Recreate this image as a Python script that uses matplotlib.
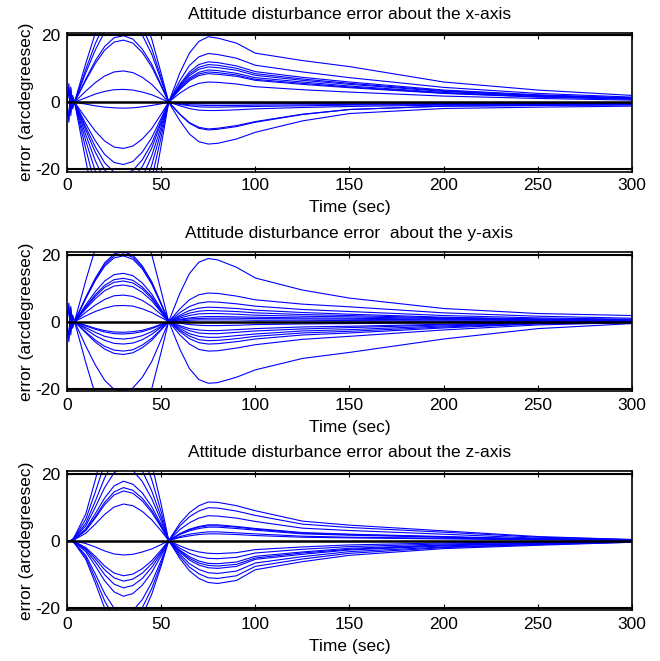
import matplotlib
matplotlib.use('Agg')
from matplotlib import pyplot as plt

# time samples (sec) shared by every run
t = [0, 1, 2, 3, 4, 10, 15, 20, 25, 30, 35, 40, 45, 50, 54,
     60, 65, 70, 75, 80, 90, 100, 125, 150, 200, 250, 300]

# error about the x-axis (arcdegreesec), one list per run
err_x = [
    [0, 5.5, -4, 2, 0, 11.6, 20.5, 27.7, 32.0, 33.0, 31.4, 26.4, 18.8, 8.6, 0,
     -5.6, -9.5, -11.8, -12.5, -12.3, -11.0, -9.0, -5.6, -3.4, -1.9, -1.5, -1.2],
    [0, -5, 4, -1.5, 0, 9.8, 17.4, 23.5, 27.2, 28.0, 26.6, 22.4, 16.0, 7.3, 0,
     -3.7, -6.3, -7.8, -8.3, -8.1, -7.3, -6.0, -3.7, -2.2, -1.2, -1.0, -0.8],
    [0, 0, 0, 0, 0, 8.8, 15.5, 21.0, 24.3, 25.0, 23.8, 20.0, 14.3, 6.5, 0,
     -3.6, -6.1, -7.5, -8.0, -7.8, -7.0, -5.8, -3.6, -2.2, -1.2, -1.0, -0.8],
    [0, 0, 0, 0, 0, 6.9, 12.3, 16.6, 19.2, 19.8, 18.8, 15.8, 11.3, 5.1, 0,
     -1.1, -1.9, -2.4, -2.5, -2.5, -2.3, -2.0, -1.6, -1.3, -0.9, -0.7, -0.6],
    [0, 3, -2, 1, 0, 6.5, 11.5, 15.5, 17.9, 18.5, 17.6, 14.8, 10.5, 4.8, 0,
     -0.7, -1.1, -1.4, -1.5, -1.5, -1.4, -1.3, -1.1, -0.9, -0.7, -0.6, -0.5],
    [0, 0, 0, 0, 0, 3.3, 5.8, 7.8, 9.0, 9.3, 8.8, 7.4, 5.3, 2.4, 0,
     -0.5, -0.8, -0.9, -1.0, -1.0, -1.0, -0.9, -0.8, -0.7, -0.5, -0.4, -0.3],
    [0, 0, 0, 0, 0, 1.3, 2.4, 3.2, 3.7, 3.8, 3.6, 3.0, 2.2, 1.0, 0,
     -0.2, -0.4, -0.5, -0.5, -0.5, -0.5, -0.5, -0.4, -0.3, -0.3, -0.2, -0.2],
    [0, 0, 0, 0, 0, -0.6, -1.1, -1.5, -1.7, -1.8, -1.7, -1.4, -1.0, -0.5, 0,
     2.7, 4.5, 5.6, 6.0, 5.9, 5.4, 4.6, 3.7, 3.0, 1.8, 1.1, 0.6],
    [0, 0, 0, 0, 0, -4.8, -8.6, -11.6, -13.4, -13.8, -13.1, -11.0, -7.9, -3.6, 0,
     3.8, 6.4, 7.9, 8.5, 8.3, 7.7, 6.5, 5.3, 4.3, 2.6, 1.5, 0.9],
    [0, -6, 4.5, -2, 0, -6.5, -11.5, -15.6, -18.0, -18.6, -17.7, -14.9, -10.6, -4.8, 0,
     4.1, 6.8, 8.4, 9.0, 8.8, 8.1, 6.8, 5.6, 4.5, 2.7, 1.6, 0.9],
    [0, 0, 0, 0, 0, -7.5, -13.3, -18.1, -20.9, -21.5, -20.4, -17.2, -12.3, -5.6, 0,
     4.3, 7.2, 8.9, 9.6, 9.4, 8.6, 7.3, 6.0, 4.8, 2.9, 1.7, 1.0],
    [0, 0, 0, 0, 0, -8.4, -14.9, -20.2, -23.3, -24.0, -22.8, -19.2, -13.7, -6.2, 0,
     4.7, 7.9, 9.8, 10.5, 10.3, 9.5, 8.0, 6.5, 5.3, 3.2, 1.9, 1.1],
    [0, 4, -3, 1.5, 0, -9.8, -17.4, -23.5, -27.2, -28.0, -26.6, -22.4, -16.0, -7.3, 0,
     5.0, 8.4, 10.4, 11.2, 11.0, 10.1, 8.5, 6.9, 5.6, 3.4, 2.0, 1.2],
    [0, 0, 0, 0, 0, -11.6, -20.5, -27.7, -32.0, -33.0, -31.4, -26.4, -18.8, -8.6, 0,
     5.4, 9.0, 11.2, 12.0, 11.8, 10.8, 9.1, 7.4, 6.0, 3.6, 2.2, 1.3],
    [0, 0, 0, 0, 0, -14.0, -24.8, -33.6, -38.8, -40.0, -38.0, -32.0, -22.8, -10.4, 0,
     6.5, 10.9, 13.5, 14.5, 14.2, 13.1, 11.0, 9.0, 7.3, 4.4, 2.6, 1.5],
    [0, 0, 0, 0, 0, -17.5, -31.0, -42.0, -48.5, -50.0, -47.5, -40.0, -28.5, -13.0, 0,
     8.8, 14.6, 18.1, 19.5, 19.1, 17.6, 14.6, 12.4, 10.6, 6.0, 3.6, 2.0],
]

# error about the y-axis
err_y = [
    [0, 5.5, -4, 2, 0, 12.3, 21.7, 29.4, 34.0, 35.0, 33.3, 28.0, 20.0, 9.1, 0,
     -8.3, -14.0, -17.3, -18.4, -18.2, -16.6, -14.4, -11.0, -9.2, -5.2, -2.1, -0.6],
    [0, 0, 0, 0, 0, 7.3, 12.9, 17.5, 20.2, 20.8, 19.8, 16.6, 11.9, 5.4, 0,
     -4.0, -6.7, -8.3, -8.8, -8.7, -7.9, -6.9, -5.3, -4.4, -2.5, -1.0, -0.3],
    [0, -5, 4, -1.5, 0, 7.1, 12.5, 17.0, 19.6, 20.2, 19.2, 16.2, 11.5, 5.3, 0,
     -3.0, -5.1, -6.3, -6.7, -6.6, -6.0, -5.2, -4.0, -3.4, -1.9, -0.7, -0.2],
    [0, 0, 0, 0, 0, 6.9, 12.2, 16.5, 19.0, 19.6, 18.6, 15.7, 11.2, 5.1, 0,
     -2.6, -4.3, -5.4, -5.7, -5.6, -5.1, -4.4, -3.4, -2.9, -1.6, -0.6, -0.2],
    [0, 0, 0, 0, 0, 5.0, 8.9, 12.1, 14.0, 14.4, 13.7, 11.5, 8.2, 3.7, 0,
     -2.1, -3.6, -4.4, -4.7, -4.7, -4.2, -3.7, -2.8, -2.4, -1.3, -0.5, -0.1],
    [0, 0, 0, 0, 0, 4.5, 8.0, 10.8, 12.5, 12.9, 12.3, 10.3, 7.4, 3.4, 0,
     -1.6, -2.7, -3.4, -3.6, -3.6, -3.2, -2.8, -2.2, -1.8, -1.0, -0.4, -0.1],
    [0, 0, 0, 0, 0, 4.2, 7.5, 10.2, 11.7, 12.1, 11.5, 9.7, 6.9, 3.1, 0,
     -1.2, -2.1, -2.5, -2.7, -2.7, -2.4, -2.1, -1.6, -1.4, -0.8, -0.3, -0.1],
    [0, 0, 0, 0, 0, 3.8, 6.8, 9.2, 10.6, 10.9, 10.4, 8.7, 6.2, 2.8, 0,
     -0.5, -0.9, -1.1, -1.2, -1.2, -1.1, -0.9, -0.7, -0.6, -0.3, -0.1, 0.0],
    [0, 0, 0, 0, 0, 2.8, 4.9, 6.6, 7.7, 7.9, 7.5, 6.3, 4.5, 2.1, 0,
     -0.1, -0.2, -0.3, -0.3, -0.3, -0.3, -0.2, -0.2, -0.2, -0.1, 0.0, 0.0],
    [0, 0, 0, 0, 0, 1.7, 3.0, 4.0, 4.7, 4.8, 4.6, 3.8, 2.7, 1.2, 0,
     0.2, 0.4, 0.5, 0.5, 0.5, 0.5, 0.4, 0.4, 0.3, 0.2, 0.1, 0.1],
    [0, -6, 4.5, -2, 0, -12.3, -21.7, -29.4, -34.0, -35.0, -33.3, -28.0, -20.0, -9.1, 0,
     8.5, 14.3, 17.7, 18.8, 18.4, 16.2, 13.0, 9.4, 7.0, 3.9, 2.4, 1.8],
    [0, 0, 0, 0, 0, -7.3, -12.9, -17.5, -20.2, -20.8, -19.8, -16.6, -11.9, -5.4, 0,
     3.8, 6.5, 8.0, 8.5, 8.4, 7.6, 6.5, 5.2, 4.4, 2.6, 1.6, 1.0],
    [0, 0, 0, 0, 0, -3.4, -6.1, -8.2, -9.5, -9.8, -9.3, -7.8, -5.6, -2.5, 0,
     2.7, 4.5, 5.5, 5.9, 5.8, 5.3, 4.6, 3.6, 3.0, 1.8, 1.1, 0.7],
    [0, 0, 0, 0, 0, -3.1, -5.5, -7.4, -8.5, -8.8, -8.4, -7.0, -5.0, -2.3, 0,
     1.9, 3.3, 4.0, 4.3, 4.2, 3.9, 3.4, 2.7, 2.2, 1.3, 0.8, 0.5],
    [0, 4, -3, 1.5, 0, -2.3, -4.2, -5.6, -6.5, -6.7, -6.4, -5.4, -3.8, -1.7, 0,
     1.5, 2.5, 3.1, 3.3, 3.2, 3.0, 2.6, 2.1, 1.8, 1.1, 0.7, 0.4],
    [0, 0, 0, 0, 0, -1.8, -3.2, -4.4, -5.0, -5.2, -4.9, -4.2, -3.0, -1.4, 0,
     1.1, 1.8, 2.3, 2.4, 2.4, 2.2, 1.9, 1.6, 1.4, 0.9, 0.6, 0.4],
    [0, 0, 0, 0, 0, -1.3, -2.3, -3.1, -3.6, -3.7, -3.5, -3.0, -2.1, -1.0, 0,
     0.7, 1.1, 1.4, 1.5, 1.5, 1.4, 1.3, 1.1, 1.0, 0.7, 0.5, 0.3],
    [0, 0, 0, 0, 0, -1.1, -2.0, -2.7, -3.1, -3.2, -3.0, -2.6, -1.8, -0.8, 0,
     0.5, 0.8, 0.9, 1.0, 1.0, 1.0, 0.9, 0.8, 0.7, 0.5, 0.3, 0.2],
]

# error about the z-axis
err_z = [
    [0, 0, 0, 0.4, 1.2, 8.0, 18.0, 28.8, 36.8, 40.0, 38.0, 32.0, 22.8, 10.8, 0,
     -5.4, -9.0, -11.3, -12.5, -12.8, -11.9, -8.7, -6.3, -4.4, -2.4, -1.4, -0.5],
    [0, 0, 0, 0.3, 1.0, 6.4, 14.4, 23.0, 29.4, 32.0, 30.4, 25.6, 18.2, 8.6, 0,
     -4.7, -7.9, -9.9, -11.1, -11.3, -10.5, -7.7, -5.5, -3.8, -2.1, -1.2, -0.5],
    [0, 0, 0, 0.3, 0.8, 5.2, 11.7, 18.7, 23.9, 26.0, 24.7, 20.8, 14.8, 7.0, 0,
     -4.1, -6.9, -8.6, -9.6, -9.8, -9.1, -6.7, -4.8, -3.3, -1.9, -1.1, -0.4],
    [0, 0, 0, 0.2, 0.7, 4.4, 9.9, 15.8, 20.2, 22.0, 20.9, 17.6, 12.5, 5.9, 0,
     -3.5, -5.8, -7.3, -8.1, -8.3, -7.7, -5.6, -4.1, -2.8, -1.6, -0.9, -0.3],
    [0, 0, 0, 0.2, 0.5, 3.5, 8.0, 12.7, 16.3, 17.7, 16.8, 14.2, 10.1, 4.8, 0,
     -3.2, -5.3, -6.7, -7.4, -7.6, -7.1, -5.2, -3.7, -2.6, -1.4, -0.8, -0.3],
    [0, 0, 0, 0.2, 0.5, 3.2, 7.1, 11.4, 14.5, 15.8, 15.0, 12.6, 9.0, 4.3, 0,
     -2.9, -4.8, -6.1, -6.8, -6.9, -6.4, -4.7, -3.4, -2.3, -1.3, -0.8, -0.3],
    [0, 0, 0, 0.1, 0.4, 3.0, 6.7, 10.7, 13.6, 14.8, 14.1, 11.8, 8.4, 4.0, 0,
     -2.3, -3.8, -4.8, -5.3, -5.4, -5.0, -3.7, -2.6, -1.8, -1.0, -0.6, -0.2],
    [0, 0, 0, 0.1, 0.3, 2.2, 4.9, 7.8, 10.0, 10.9, 10.4, 8.7, 6.2, 2.9, 0,
     -1.6, -2.7, -3.4, -3.8, -3.9, -3.6, -2.7, -1.9, -1.3, -0.7, -0.4, -0.2],
    [0, 0, 0, -0.3, -0.8, -5.6, -12.6, -20.2, -25.8, -28.0, -26.6, -22.4, -16.0, -7.6, 0,
     5.2, 8.3, 10.4, 11.5, 11.4, 10.4, 8.9, 5.8, 4.6, 2.9, 1.2, 0.3],
    [0, 0, 0, -0.3, -0.8, -5.0, -11.3, -18.0, -23.0, -25.0, -23.8, -20.0, -14.3, -6.8, 0,
     4.4, 7.1, 8.8, 9.8, 9.7, 8.8, 7.5, 4.9, 3.9, 2.5, 1.0, 0.3],
    [0, 0, 0, -0.2, -0.7, -4.4, -9.9, -15.8, -20.2, -22.0, -20.9, -17.6, -12.5, -5.9, 0,
     3.3, 5.3, 6.7, 7.4, 7.3, 6.7, 5.7, 3.7, 3.0, 1.9, 0.7, 0.2],
    [0, 0, 0, -0.2, -0.5, -3.3, -7.5, -12.0, -15.3, -16.6, -15.8, -13.3, -9.5, -4.5, 0,
     2.1, 3.4, 4.2, 4.7, 4.7, 4.2, 3.6, 2.4, 1.9, 1.2, 0.5, 0.1],
    [0, 0, 0, -0.1, -0.4, -2.8, -6.3, -10.2, -13.0, -14.1, -13.4, -11.3, -8.0, -3.8, 0,
     2.0, 3.2, 4.0, 4.4, 4.4, 4.0, 3.4, 2.2, 1.8, 1.1, 0.4, 0.1],
    [0, 0, 0, -0.1, -0.4, -2.4, -5.4, -8.7, -11.1, -12.1, -11.5, -9.7, -6.9, -3.3, 0,
     1.8, 2.9, 3.6, 4.0, 4.0, 3.6, 3.1, 2.0, 1.6, 1.0, 0.4, 0.1],
    [0, 0, 0, -0.1, -0.3, -2.1, -4.7, -7.6, -9.7, -10.5, -10.0, -8.4, -6.0, -2.8, 0,
     1.2, 1.9, 2.3, 2.6, 2.6, 2.3, 2.0, 1.3, 1.0, 0.7, 0.3, 0.1],
    [0, 0, 0, 0, -0.1, -0.9, -1.9, -3.1, -4.0, -4.3, -4.1, -3.4, -2.5, -1.2, 0,
     0.9, 1.4, 1.8, 2.0, 2.0, 1.8, 1.5, 1.0, 0.8, 0.5, 0.2, 0.1],
]

titles = ['Attitude disturbance error about the x-axis',
          'Attitude disturbance error  about the y-axis',
          'Attitude disturbance error about the z-axis']
xticks = [0, 50, 100, 150, 200, 250, 300]
yticks = [-20, 0, 20]
bound = 20

plt.rcParams['font.family'] = ['Liberation Sans', 'DejaVu Sans']
plt.rcParams['axes.unicode_minus'] = False

fig = plt.figure(figsize=(6.6, 6.61), dpi=100)
bottoms = [0.7405, 0.4085, 0.0772]

for b, runs, title in zip(bottoms, [err_x, err_y, err_z], titles):
    ax = fig.add_axes([0.1015, b, 0.856, 0.21])
    for run in runs:
        ax.plot(t, run, color='#0000ff', lw=0.8)
    ax.axhline(0, color='k', lw=1.8)
    ax.axhline(bound, color='k', lw=1.5)
    ax.axhline(-bound, color='k', lw=1.5)
    ax.set_xlim(0, 300)
    ax.set_ylim(-20.7, 20.7)
    ax.set_xticks(xticks)
    ax.set_yticks(yticks)
    ax.tick_params(direction='in', top=True, right=True, length=4,
                   width=0.8, labelsize=12.5, pad=5)
    for s in ax.spines.values():
        s.set_linewidth(1.2)
    ax.set_title(title, fontsize=12.5, pad=10)
    ax.set_xlabel('Time (sec)', fontsize=12.5, labelpad=5)
    ax.set_ylabel('error (arcdegreesec)', fontsize=12.5, labelpad=1)

fig.savefig('out.png', dpi=100)
